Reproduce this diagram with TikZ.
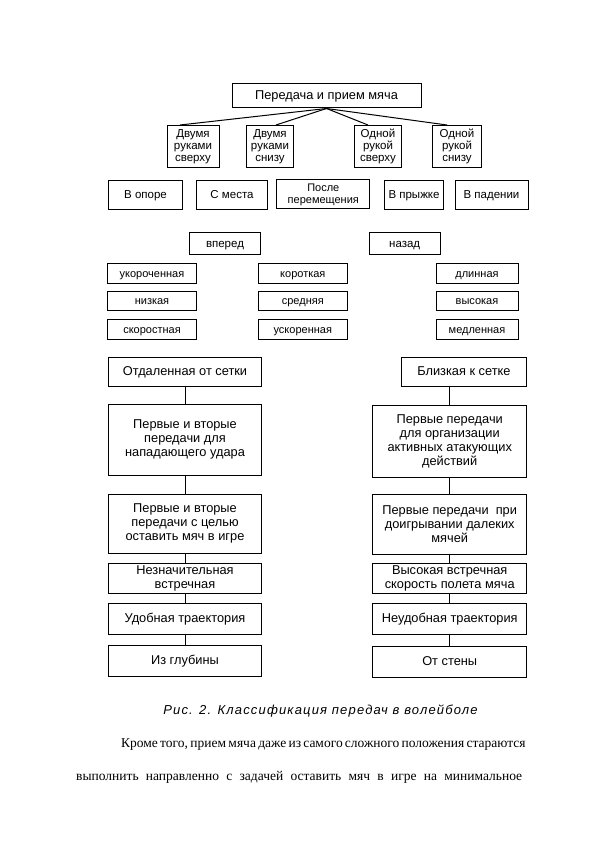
\documentclass[tikz,border=0pt]{standalone}
\usepackage{fontspec}
\setmainfont{Liberation Sans}
\newfontfamily\serifrm{Liberation Serif}
\newfontfamily\capfont[LetterSpace=9]{Liberation Sans}
\begin{document}
\begin{tikzpicture}[x=1pt,y=1pt,
  box/.style={draw, line width=1pt, inner sep=1pt,
    font=\fontsize{11}{12}\selectfont},
  midbox/.style={box, font=\fontsize{11.5}{12.2}\selectfont},
  bigbox/.style={box, font=\fontsize{12.8}{14}\selectfont},
  one/.style={text height=0.82em, text depth=0.04em},
  multi/.style={align=center},
  link/.style={line width=1pt}]
\useasboundingbox (0,0) rectangle (595,-842);
% top
\node[bigbox, one, minimum width=189, minimum height=24] (top) at (326.5,-96) {Передача и прием мяча};
% row 1
\node[midbox, multi, minimum width=52, minimum height=42] (b1) at (193,-146.5) {Двумя\\руками\\сверху};
\node[midbox, multi, minimum width=47.5, minimum height=42] (b2) at (270,-146.5) {Двумя\\руками\\снизу};
\node[midbox, multi, minimum width=46.5, minimum height=42] (b3) at (378,-146.5) {Одной\\рукой\\сверху};
\node[midbox, multi, minimum width=48.5, minimum height=42] (b4) at (457,-146.5) {Одной\\рукой\\снизу};
\draw[link] (top.south) -- ([xshift=-13]b1.north);
\draw[link] (top.south) -- ([xshift=6]b2.north);
\draw[link] (top.south) -- ([xshift=-10]b3.north);
\draw[link] (top.south) -- ([xshift=-10]b4.north);
% row 2
\node[midbox, one, minimum width=74.4, minimum height=28.5] (p1) at (145.5,-195) {В опоре};
\node[midbox, one, minimum width=71.7, minimum height=28.5] (p2) at (232,-195) {С места};
\node[box, multi, minimum width=93.3, minimum height=29] (p3) at (323.3,-194.5) {После\\перемещения};
\node[midbox, one, minimum width=58.3, minimum height=28.5] (p4) at (414,-195) {В прыжке};
\node[midbox, one, minimum width=73, minimum height=28.5] (p5) at (491.5,-195) {В падении};
% row 3
\node[midbox, one, minimum width=71.4, minimum height=22] (fw) at (225,-243.5) {вперед};
\node[midbox, one, minimum width=70.7, minimum height=22] (bk) at (404.7,-243.5) {назад};
% rows 4-6
\node[box, one, minimum width=89.4, minimum height=19.5] (a1) at (152,-273.5) {укороченная};
\node[box, one, minimum width=89.4, minimum height=19.5] (a2) at (152,-301) {низкая};
\node[box, one, minimum width=89.4, minimum height=19.5] (a3) at (152,-329.5) {скоростная};
\node[box, one, minimum width=89, minimum height=19.5] (m1) at (302.8,-273.5) {короткая};
\node[box, one, minimum width=89, minimum height=19.5] (m2) at (302.8,-301) {средняя};
\node[box, one, minimum width=89, minimum height=19.5] (m3) at (302.8,-329.5) {ускоренная};
\node[box, one, minimum width=82, minimum height=19.5] (r1) at (477,-273.5) {длинная};
\node[box, one, minimum width=82, minimum height=19.5] (r2) at (477,-301) {высокая};
\node[box, one, minimum width=82, minimum height=19.5] (r3) at (477,-329.5) {медленная};
% left chain
\node[bigbox, one, minimum width=153.4, minimum height=29] (otd) at (185,-371.5) {Отдаленная от сетки};
\node[bigbox, multi, minimum width=153.4, minimum height=70.5] (L1) at (185,-439.75) {Первые и вторые\\передачи для\\нападающего удара};
\node[bigbox, multi, minimum width=153.4, minimum height=59] (L2) at (185,-523.8) {Первые и вторые\\передачи с целью\\оставить мяч в игре};
\node[bigbox, multi, minimum width=153.4, minimum height=30] (L3) at (185,-578) {Незначительная\\встречная};
\node[bigbox, one, minimum width=153.4, minimum height=30.5] (L4) at (185,-618.75) {Удобная траектория};
\node[bigbox, one, minimum width=153.4, minimum height=31] (L5) at (185,-661) {Из глубины};
\draw[link] (otd.south) -- (L1.north);
\draw[link] (L1.south) -- (L2.north);
\draw[link] (L2.south) -- (L3.north);
\draw[link] (L3.south) -- (L4.north);
\draw[link] (L4.south) -- (L5.north);
% right chain
\node[bigbox, one, minimum width=125.7, minimum height=29] (blz) at (463.9,-371.5) {Близкая к сетке};
\node[bigbox, multi, minimum width=154, minimum height=71.5] (R1) at (449.7,-441.25) {Первые передачи\\для организации\\активных атакующих\\действий};
\node[bigbox, multi, minimum width=154, minimum height=60] (R2) at (449.7,-524.3) {Первые передачи~ при\\доигрывании далеких\\мячей};
\node[bigbox, multi, minimum width=154, minimum height=30] (R3) at (449.7,-578) {Высокая встречная\\скорость полета мяча};
\node[bigbox, one, minimum width=154, minimum height=31] (R4) at (449.7,-619) {Неудобная траектория};
\node[bigbox, one, minimum width=154, minimum height=31] (R5) at (449.7,-661.5) {От стены};
\draw[link] (R1.north) -- (R1.north |- blz.south);
\draw[link] (R1.south) -- (R2.north);
\draw[link] (R2.south) -- (R3.north);
\draw[link] (R3.south) -- (R4.north);
\draw[link] (R4.south) -- (R5.north);
% caption and text
\node[inner sep=0, font=\capfont\itshape\fontsize{13}{15}\selectfont] (cap) at (320.5,-711) {Рис. 2. Классификация передач в волейболе};
\node[inner sep=0, anchor=west, font=\serifrm\fontsize{13.5}{16}\selectfont] (t1) at (121,-745) {\makebox[402pt][s]{Кроме того, прием мяча даже из самого сложного положения стараются}};
\node[inner sep=0, anchor=west, font=\serifrm\fontsize{13.5}{16}\selectfont] (t2) at (76,-777) {\makebox[446pt][s]{выполнить направленно с задачей оставить мяч в игре на минимальное}};
\end{tikzpicture}
\end{document}
